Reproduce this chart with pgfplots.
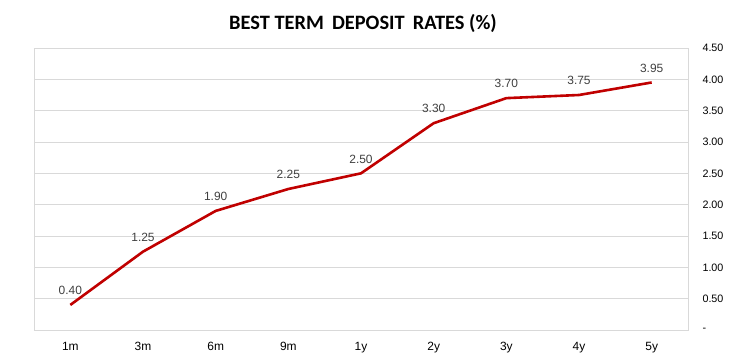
\documentclass[border=0pt]{standalone}
\usepackage{fontspec}
\setmainfont{Liberation Sans}
\newfontfamily\titlefont{Carlito}
\usepackage{pgfplots}
\pgfplotsset{compat=1.18}
\definecolor{linered}{HTML}{C00000}
\definecolor{gridgray}{HTML}{D9D9D9}
\definecolor{labelgray}{HTML}{404040}
\begin{document}
\begin{tikzpicture}
\begin{axis}[
  at={(0,0)}, anchor=south west,
  scale only axis, width=654bp, height=282bp,
  xmin=-0.5, xmax=8.5, ymin=0, ymax=4.5,
  /pgf/number format/assume math mode=true,
  axis line style={gridgray},
  major tick length=0pt,
  ymajorgrids, grid style={gridgray, line width=0.8bp},
  xtick={0,1,2,3,4,5,6,7,8},
  xticklabels={1m,3m,6m,9m,1y,2y,3y,4y,5y},
  xticklabel style={font=\fontsize{12}{14}\selectfont, text=black, yshift=-9bp},
  ytick={0,0.5,1,1.5,2,2.5,3,3.5,4,4.5},
  yticklabels={-,0.50,1.00,1.50,2.00,2.50,3.00,3.50,4.00,4.50},
  yticklabel pos=right,
  yticklabel style={font=\fontsize{10.8}{12}\selectfont, text=black, anchor=west, xshift=11bp},
  title={\titlefont\bfseries\fontsize{20.5}{22}\selectfont BEST TERM\ \,DEPOSIT\ \,RATES (\%)},
  title style={at={(0.5,1)}, anchor=center, yshift=19bp, xshift=2bp},
  clip=false,
]
\addplot[color=linered, line width=2.6bp, line join=round,
  point meta=explicit symbolic,
  nodes near coords,
  nodes near coords style={font=\fontsize{12}{14}\selectfont, text=labelgray, anchor=south, yshift=5.5bp}]
  coordinates {
  (0,0.40) [0.40]
  (1,1.25) [1.25]
  (2,1.90) [1.90]
  (3,2.25) [2.25]
  (4,2.50) [2.50]
  (5,3.30) [3.30]
  (6,3.70) [3.70]
  (7,3.75) [3.75]
  (8,3.95) [3.95]
  };
\end{axis}
\pgfresetboundingbox
\path (-34bp,-31bp) rectangle (697bp,330bp);
\end{tikzpicture}
\end{document}
